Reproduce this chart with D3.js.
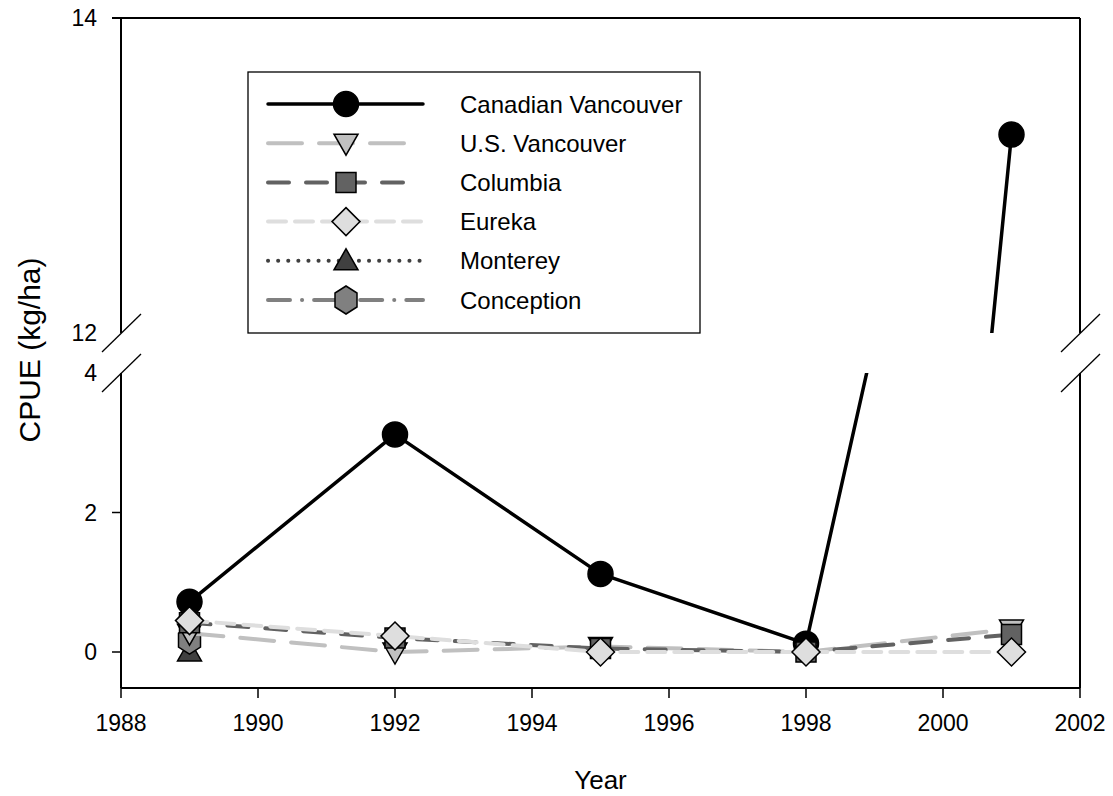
<!DOCTYPE html>
<html>
<head>
<meta charset="utf-8">
<script src="https://cdn.jsdelivr.net/npm/d3@7"></script>
<style>
  html, body { margin: 0; padding: 0; background: #fff; }
  svg { display: block; }
  text { font-family: Arial, "Liberation Sans", sans-serif; fill: #000; }
</style>
</head>
<body>
<svg id="chart" width="1113" height="796"></svg>
<script>
// ---------------- data ----------------
const years = [1989, 1992, 1995, 1998, 2001];
const canadianVancouver = [0.72, 3.12, 1.12, 0.12, 13.26];
const usVancouver = [0.27, 0.0, 0.08, 0.0, 0.33];
const columbia = [0.42, 0.2, 0.05, 0.0, 0.25];
const eureka = [0.45, 0.23, 0.0, 0.0, 0.0];
const monterey = [0.0, null, null, null, null];
const conception = [0.17, null, null, null, null];
const seriesNames = ["Canadian Vancouver", "U.S. Vancouver", "Columbia", "Eureka", "Monterey", "Conception"];
const xTicks = [1988, 1990, 1992, 1994, 1996, 1998, 2000, 2002];
const yTicksLower = [0, 2, 4];
const yTicksUpper = [12, 14];

// ---------------- layout ----------------
const svg = d3.select("#chart");
const L = 121, R = 1080, T = 18, B = 688;
const upperBottom = 333, lowerTop = 373;

const x = d3.scaleLinear().domain([1988, 2002]).range([L, R]);
const yLow = d3.scaleLinear().domain([0, 4]).range([652, lowerTop]);
const yUp = d3.scaleLinear().domain([12, 14]).range([upperBottom, T]);

const styles = {
  "Canadian Vancouver": { color: "#000", dash: null, width: 3.5, fill: "#000", shape: "circle", legEnd: 423 },
  "U.S. Vancouver": { color: "#c0c0c0", dash: "34,17", width: 4, fill: "#c0c0c0", shape: "triDown", legEnd: 407 },
  "Columbia": { color: "#626262", dash: "21,17", width: 4, fill: "#626262", shape: "square", legEnd: 415 },
  "Eureka": { color: "#dedede", dash: "18,9", width: 4, fill: "#dedede", shape: "diamond", legEnd: 423 },
  "Monterey": { color: "#404040", dash: "0.1,10", width: 4, fill: "#404040", shape: "triUp", legEnd: 423 },
  "Conception": { color: "#808080", dash: "22,12,0.1,12", width: 4, fill: "#808080", shape: "hexagon", legEnd: 423 }
};
const seriesData = {
  "Canadian Vancouver": canadianVancouver,
  "U.S. Vancouver": usVancouver,
  "Columbia": columbia,
  "Eureka": eureka,
  "Monterey": monterey,
  "Conception": conception
};

function shapePath(shape) {
  switch (shape) {
    case "circle": return d3.symbol().type(d3.symbolCircle).size(Math.PI * 12.5 * 12.5)();
    case "triDown": return "M-12,-9L12,-9L0,12Z";
    case "triUp": return "M-12,9L12,9L0,-12Z";
    case "square": return "M-10,-10L10,-10L10,10L-10,10Z";
    case "diamond": return "M0,-14L14,0L0,14L-14,0Z";
    case "hexagon": return "M0,-14L11,-7L11,7L0,14L-11,7L-11,-7Z";
  }
}

// clip paths
const defs = svg.append("defs");
defs.append("clipPath").attr("id", "clipLow").append("rect")
  .attr("x", L).attr("y", lowerTop).attr("width", R - L).attr("height", B - lowerTop);
defs.append("clipPath").attr("id", "clipUp").append("rect")
  .attr("x", L).attr("y", T).attr("width", R - L).attr("height", upperBottom - T);

// ---------------- axes frame ----------------
const frame = svg.append("g").attr("stroke", "#000").attr("stroke-width", 2).attr("fill", "none");
frame.append("line").attr("x1", L - 9).attr("x2", R).attr("y1", T).attr("y2", T);
frame.append("line").attr("x1", L).attr("x2", R).attr("y1", B).attr("y2", B);
[L, R].forEach(ax => {
  frame.append("line").attr("x1", ax).attr("x2", ax).attr("y1", T).attr("y2", upperBottom);
  frame.append("line").attr("x1", ax).attr("x2", ax).attr("y1", lowerTop).attr("y2", B);
  [upperBottom, lowerTop].forEach(yy => {
    frame.append("line").attr("stroke-width", 1.3)
      .attr("x1", ax - 19).attr("y1", yy + 19).attr("x2", ax + 20).attr("y2", yy - 19);
  });
});

// x ticks
const xt = svg.append("g");
xTicks.forEach(t => {
  xt.append("line").attr("x1", x(t)).attr("x2", x(t)).attr("y1", B).attr("y2", B + 10)
    .attr("stroke", "#000").attr("stroke-width", 1.5);
  xt.append("text").attr("x", x(t)).attr("y", 731).attr("text-anchor", "middle")
    .attr("font-size", 23).text(t);
});

// y ticks
const yt = svg.append("g");
yTicksLower.forEach(t => {
  if (t !== 4) {
    yt.append("line").attr("x1", L - 9).attr("x2", L).attr("y1", yLow(t)).attr("y2", yLow(t))
      .attr("stroke", "#000").attr("stroke-width", 1.5);
  }
  yt.append("text").attr("x", 97).attr("y", yLow(t)).attr("dy", "0.36em").attr("text-anchor", "end")
    .attr("font-size", 23).text(t);
});
yTicksUpper.forEach(t => {
  yt.append("text").attr("x", 97).attr("y", yUp(t)).attr("dy", "0.36em").attr("text-anchor", "end")
    .attr("font-size", 23).text(t);
});

// axis titles
svg.append("text").attr("x", x(1995)).attr("y", 789).attr("text-anchor", "middle")
  .attr("font-size", 26).text("Year");
svg.append("text").attr("transform", "translate(40,350) rotate(-90)").attr("text-anchor", "middle")
  .attr("font-size", 30).text("CPUE (kg/ha)");

// ---------------- series ----------------
const drawOrder = ["Monterey", "Conception", "Canadian Vancouver", "U.S. Vancouver", "Columbia", "Eureka"];
const plot = svg.append("g");

drawOrder.forEach(name => {
  const st = styles[name];
  const vals = seriesData[name];
  const pts = years.map((yr, i) => ({ yr, v: vals[i] })).filter(d => d.v !== null);
  const g = plot.append("g");
  if (pts.length > 1) {
    const lineLow = d3.line().x(d => x(d.yr)).y(d => yLow(d.v));
    g.append("path").attr("d", lineLow(pts)).attr("clip-path", "url(#clipLow)")
      .attr("fill", "none").attr("stroke", st.color).attr("stroke-width", st.width)
      .attr("stroke-linecap", "round").attr("stroke-linejoin", "round")
      .attr("stroke-dasharray", st.dash);
    if (d3.max(pts, d => d.v) > 4) {
      const lineUp = d3.line().x(d => x(d.yr)).y(d => yUp(d.v));
      g.append("path").attr("d", lineUp(pts)).attr("clip-path", "url(#clipUp)")
        .attr("fill", "none").attr("stroke", st.color).attr("stroke-width", st.width)
        .attr("stroke-linecap", "round").attr("stroke-linejoin", "round")
        .attr("stroke-dasharray", st.dash);
    }
  }
  g.selectAll("path.m").data(pts).enter().append("path").attr("class", "m")
    .attr("d", shapePath(st.shape))
    .attr("transform", d => `translate(${x(d.yr)},${d.v > 4 ? yUp(d.v) : yLow(d.v)})`)
    .attr("fill", st.fill).attr("stroke", "#000").attr("stroke-width", 1.5);
});

// ---------------- legend ----------------
const legend = svg.append("g");
legend.append("rect").attr("x", 248).attr("y", 72).attr("width", 452).attr("height", 261)
  .attr("fill", "#fff").attr("stroke", "#000").attr("stroke-width", 1.3);
const legY = d3.scalePoint().domain(seriesNames).range([104, 300]);
seriesNames.forEach(name => {
  const st = styles[name];
  const yy = legY(name);
  legend.append("line").attr("x1", 268).attr("x2", st.legEnd).attr("y1", yy).attr("y2", yy)
    .attr("stroke", st.color).attr("stroke-width", st.width)
    .attr("stroke-linecap", "round").attr("stroke-dasharray", st.dash);
  legend.append("path").attr("d", shapePath(st.shape))
    .attr("transform", `translate(346,${yy})`)
    .attr("fill", st.fill).attr("stroke", "#000").attr("stroke-width", 1.5);
  legend.append("text").attr("x", 460).attr("y", yy).attr("dy", "0.36em")
    .attr("font-size", 24).text(name);
});
</script>
</body>
</html>
